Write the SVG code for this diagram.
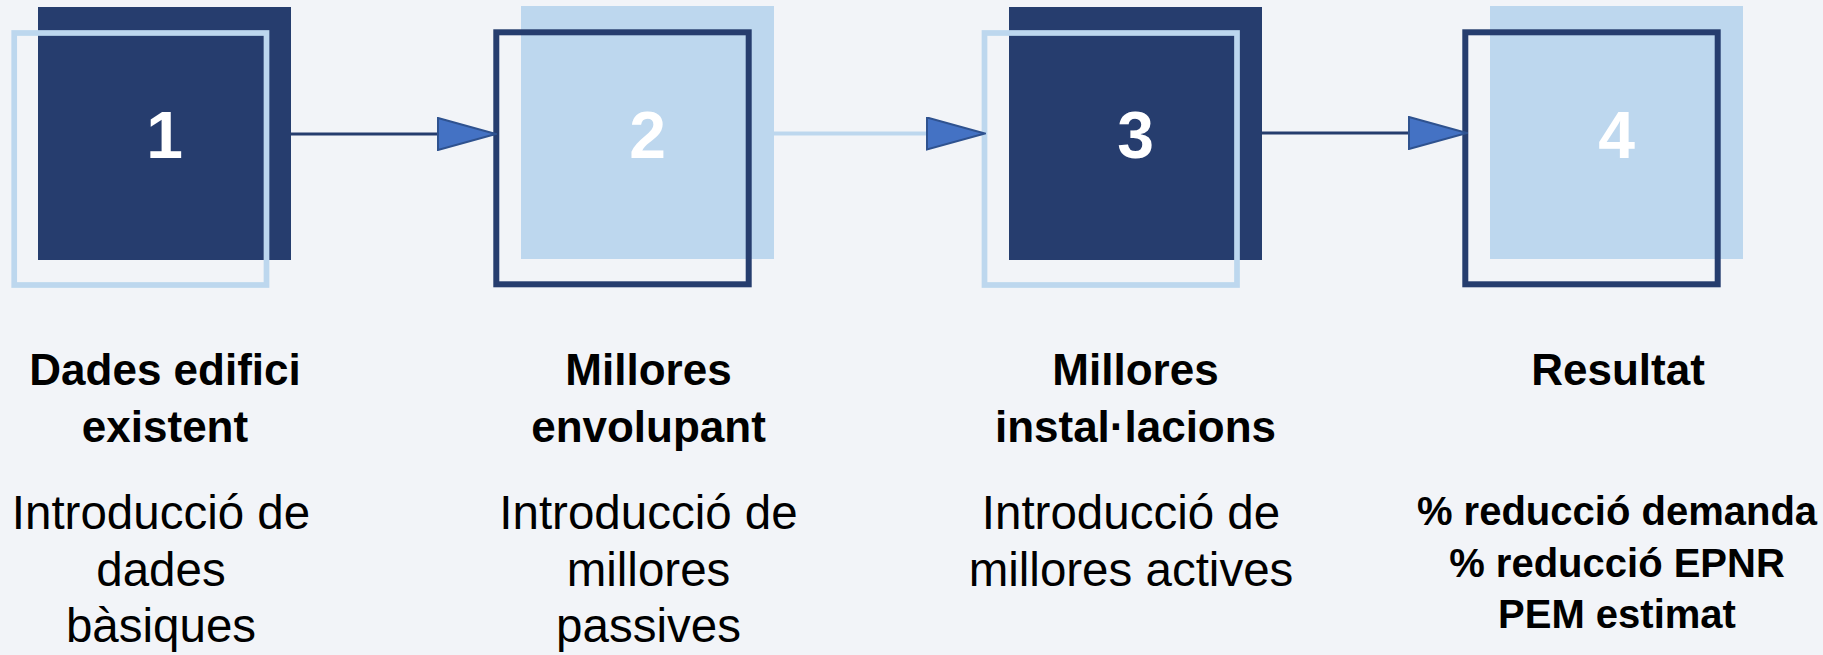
<svg xmlns="http://www.w3.org/2000/svg" width="1823" height="655" viewBox="0 0 1823 655">
<style>
  .bg { fill: #F2F4F8; }
  .dark { fill: #263D6E; }
  .light { fill: #BDD7EE; }
  .olight { fill: none; stroke: #BDD7EE; stroke-width: 5.7; }
  .odark { fill: none; stroke: #263D6E; stroke-width: 6; }
  .num { font-family: "Liberation Sans", Arial, sans-serif; font-size: 66px; font-weight: bold; fill: #FFFFFF; text-anchor: middle; }
  .title { font-family: "Liberation Sans", Arial, sans-serif; font-size: 44px; font-weight: bold; fill: #000; text-anchor: middle; }
  .desc { font-family: "Liberation Sans", Arial, sans-serif; font-size: 47.5px; fill: #000; text-anchor: middle; }
  .res { font-family: "Liberation Sans", Arial, sans-serif; font-size: 40px; font-weight: bold; fill: #000; text-anchor: middle; }
  .cdark { stroke: #263D6E; stroke-width: 3; fill: none; }
  .clight { stroke: #BDD7EE; stroke-width: 4; fill: none; }
</style>
<defs>
  <marker id="arrow" viewBox="0 0 60 34" refX="59" refY="17" markerWidth="60" markerHeight="34" markerUnits="userSpaceOnUse" orient="auto">
    <path d="M1,1 L59,17 L1,33 Z" fill="#4472C4" stroke="#2F528F" stroke-width="2" stroke-linejoin="miter"/>
  </marker>
</defs>
<rect class="bg" x="0" y="0" width="1823" height="655"/>

<g id="node1">
  <rect class="dark" x="38" y="7" width="253" height="253"/>
  <rect class="olight" x="14.2" y="33" width="252.3" height="252"/>
  <text class="num" x="164.5" y="158">1</text>
  <text class="title" x="165" y="385">Dades edifici</text>
  <text class="title" x="165" y="441.7">existent</text>
  <text class="desc" x="161" y="529">Introducció de</text>
  <text class="desc" x="161" y="585.5">dades</text>
  <text class="desc" x="161" y="642">bàsiques</text>
</g>

<g id="node2">
  <rect class="light" x="521" y="6" width="253" height="253"/>
  <rect class="odark" x="496.3" y="32.3" width="252.4" height="252"/>
  <text class="num" x="647.5" y="158">2</text>
  <text class="title" x="648.5" y="385">Millores</text>
  <text class="title" x="648.5" y="441.7">envolupant</text>
  <text class="desc" x="648.5" y="529">Introducció de</text>
  <text class="desc" x="648.5" y="585.5">millores</text>
  <text class="desc" x="648.5" y="642">passives</text>
</g>

<g id="node3">
  <rect class="dark" x="1009" y="7" width="253" height="253"/>
  <rect class="olight" x="984.5" y="33" width="252.5" height="252"/>
  <text class="num" x="1135.5" y="158">3</text>
  <text class="title" x="1135.5" y="385">Millores</text>
  <text class="title" x="1135.5" y="441.7">instal·lacions</text>
  <text class="desc" x="1131" y="529">Introducció de</text>
  <text class="desc" x="1131" y="585.5">millores actives</text>
</g>

<g id="node4">
  <rect class="light" x="1490" y="6" width="253" height="253"/>
  <rect class="odark" x="1465.3" y="32.3" width="252.4" height="252"/>
  <text class="num" x="1616.5" y="158">4</text>
  <text class="title" x="1618" y="385">Resultat</text>
  <text class="res" x="1617" y="525">% reducció demanda</text>
  <text class="res" x="1617" y="576.5">% reducció EPNR</text>
  <text class="res" x="1617" y="628">PEM estimat</text>
</g>

<g id="connectors">
  <line class="cdark" x1="291" y1="134" x2="496" y2="134" marker-end="url(#arrow)"/>
  <line class="clight" x1="774" y1="133.5" x2="985" y2="133.5" marker-end="url(#arrow)"/>
  <line class="cdark" x1="1262" y1="133" x2="1467" y2="133" marker-end="url(#arrow)"/>
</g>
</svg>
